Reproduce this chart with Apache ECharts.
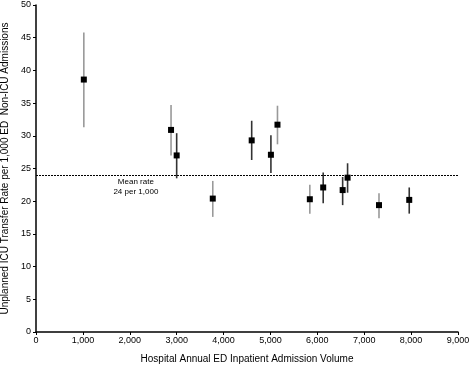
<!DOCTYPE html>
<html><head><meta charset="utf-8">
<script src="https://cdn.jsdelivr.net/npm/echarts@6/dist/echarts.min.js"></script>
<style>html,body{margin:0;padding:0;background:#fff}#c{width:470px;height:365px}</style>
</head><body><div id="c"></div>
<script>
const volume = [1020, 2880, 3000, 3770, 4600, 5010, 5150, 5840, 6125, 6540, 6645, 7315, 7960];
const rate   = [38.6, 30.9, 27.0, 20.4, 29.3, 27.1, 31.7, 20.3, 22.1, 21.7, 23.6, 19.4, 20.2];
const upper  = [45.8, 34.7, 30.4, 23.1, 32.3, 30.1, 34.6, 22.5, 24.4, 23.7, 25.8, 21.2, 22.1];
const lower  = [31.3, 27.0, 23.5, 17.6, 26.3, 24.3, 28.7, 18.1, 19.7, 19.4, 21.3, 17.4, 18.1];
const barTone = ['grey','grey','dark','grey','dark','dark','grey','grey','dark','dark','dark','grey','dark'];
const meanRate = 24;
const xTicks = [0,1000,2000,3000,4000,5000,6000,7000,8000,9000];

const font = 'Liberation Sans, Arial, sans-serif';
const chart = echarts.init(document.getElementById('c'));
const errData = volume.map((v,i)=>[v, lower[i], upper[i], barTone[i]==='grey'?0:1]);
chart.setOption({
  animation:false,
  grid:{left:36, right:12, top:5, bottom:33, containLabel:false, outerBoundsMode:'none'},
  xAxis:{type:'value', min:0, max:9000, interval:1000,
    name:'Hospital Annual ED Inpatient Admission Volume', nameLocation:'middle', nameGap:22,
    nameTextStyle:{fontFamily:font, fontSize:10, color:'#000'},
    axisLine:{lineStyle:{color:'#000', width:1.5}},
    axisTick:{length:3, lineStyle:{color:'#000'}},
    axisLabel:{fontFamily:font, fontSize:9, color:'#000', margin:4,
      formatter:v=>v.toLocaleString('en-US')},
    splitLine:{show:false}},
  yAxis:{type:'value', min:0, max:50, interval:5,
    name:'Unplanned ICU Transfer Rate per 1,000 ED  Non-ICU Admissions', nameLocation:'middle', nameGap:25,
    nameTextStyle:{fontFamily:font, fontSize:10, color:'#000'},
    axisLine:{show:true, lineStyle:{color:'#000', width:1.5}},
    axisTick:{show:true, length:3, lineStyle:{color:'#000'}},
    axisLabel:{fontFamily:font, fontSize:9, color:'#000', margin:5},
    splitLine:{show:false}},
  series:[
    {type:'custom', data:errData, z:2,
      renderItem:(params, api)=>{
        const x = api.value(0);
        const p1 = api.coord([x, api.value(1)]);
        const p2 = api.coord([x, api.value(2)]);
        return {type:'line', shape:{x1:p1[0], y1:p1[1], x2:p2[0], y2:p2[1]},
          style:{stroke: api.value(3)===0 ? '#999' : '#333', lineWidth:1.6}};
      }},
    {type:'scatter', data:volume.map((v,i)=>[v, rate[i]]), symbol:'rect', symbolSize:6, z:3,
      itemStyle:{color:'#000', opacity:1},
      markLine:{silent:true, symbol:'none', label:{show:false},
        lineStyle:{color:'#000', type:[2,1], width:1},
        data:[{yAxis:meanRate}]},
      markPoint:{silent:true, symbol:'rect', symbolSize:0,
        data:[{coord:[2130, meanRate]}],
        label:{show:true, position:'bottom', distance:2, formatter:'Mean rate\n24 per 1,000',
          fontFamily:font, fontSize:8, color:'#000', lineHeight:10, align:'center'}}}
  ]
});
</script></body></html>
